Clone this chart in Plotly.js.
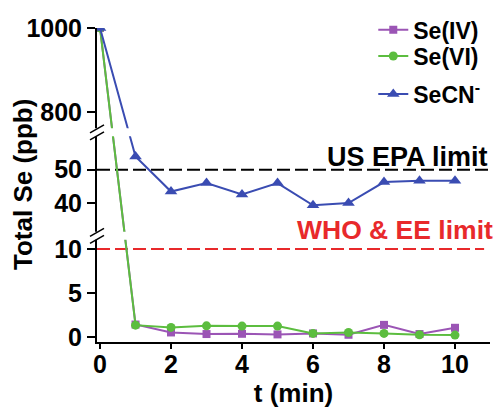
<!DOCTYPE html>
<html>
<head>
<meta charset="utf-8">
<script src="https://cdn.plot.ly/plotly-3.0.1.min.js"></script>
<style>html,body{margin:0;padding:0;background:#fff;}#chart{width:498px;height:408px;}</style>
</head>
<body>
<div id="chart"></div>
<script>
// ---- data ----
const timeMin = [0, 1, 2, 3, 4, 5, 6, 7, 8, 9, 10];
const seIV   = [1000, 1.42, 0.52, 0.34, 0.37, 0.30, 0.41, 0.26, 1.38, 0.34, 1.05];
const seVI   = [1000, 1.35, 1.09, 1.27, 1.24, 1.24, 0.41, 0.52, 0.41, 0.26, 0.22];
const seCN   = [1000, 53.9, 43.5, 46.0, 42.6, 46.0, 39.4, 40.1, 46.3, 46.7, 46.7];
const seriesNames = ['Se(IV)', 'Se(VI)', 'SeCN<sup>-</sup>'];
const yTickValues = [0, 5, 10, 40, 50, 800, 1000];
const xTickValues = [0, 2, 4, 6, 8, 10];
const limitValues = [50, 10];
const limitLabels = ['US EPA limit', 'WHO &amp; EE limit'];
const breakValues = [11.5, 61]; // axis breaks: between 0-10 and 40-50, between 40-50 and 800-1000

// ---- broken-axis scale: three linear pieces ----
function T(v) {
  if (v < 20) return 5 + 8.9 * v;
  if (v < 500) return 174 + 3.4 * (v - 50);
  return 232 + 0.425 * (v - 800);
}
const tr = arr => arr.map(T);

const FONT = 'Liberation Sans, Arial, Helvetica, sans-serif';
const cPurple = '#9B55B5', cGreen = '#5CBD3F', cBlue = '#3A4CB2', cRed = '#E8292B';

const traces = [
  {x: timeMin, y: tr(seIV), name: seriesNames[0], type: 'scatter', mode: 'lines+markers', legend: 'legend',
   line: {color: cPurple, width: 2}, marker: {symbol: 'square', size: 8, color: cPurple}},
  {x: timeMin, y: tr(seVI), name: seriesNames[1], type: 'scatter', mode: 'lines+markers', legend: 'legend2',
   line: {color: cGreen, width: 2}, marker: {symbol: 'circle', size: 9, color: cGreen}},
  {x: timeMin, y: tr(seCN), name: seriesNames[2], type: 'scatter', mode: 'lines+markers', legend: 'legend3',
   line: {color: cBlue, width: 2}, marker: {symbol: 'triangle-up', size: 11, color: cBlue}}
];

const shapes = [];
// limit lines
limitValues.forEach((v, i) => {
  shapes.push({type: 'line', xref: 'paper', x0: 0, x1: i === 0 ? 1 : 0.985, yref: 'y', y0: T(v), y1: T(v),
    line: {color: i === 0 ? '#000' : cRed, width: 2, dash: '13px,5px'}, layer: 'below'});
});
// axis breaks: white gap + double slash
const gapBreak = [
  {u: (T(breakValues[0]) + T(30.3)) / 2},
  {u: (T(breakValues[1]) + T(753)) / 2}
];
gapBreak.forEach(b => {
  shapes.push({type: 'rect', xref: 'paper', x0: -0.03, x1: 0.14, yref: 'y', ysizemode: 'pixel', yanchor: b.u,
    y0: -4, y1: 4, fillcolor: '#fff', line: {width: 0}, layer: 'above'});
  [-3.5, 3.5].forEach(off => {
    shapes.push({type: 'line', xref: 'paper', xsizemode: 'pixel', xanchor: 0, x0: -7, x1: 7,
      yref: 'y', ysizemode: 'pixel', yanchor: b.u, y0: off - 4, y1: off + 4,
      line: {color: '#000', width: 1.5}, layer: 'above'});
  });
});

const annotations = [
  {xref: 'paper', x: 1.0, xanchor: 'right', yref: 'y', y: T(limitValues[0]), yanchor: 'bottom', yshift: -4,
   text: limitLabels[0], showarrow: false, font: {family: FONT, size: 27, color: '#000', weight: 700}},
  {xref: 'paper', x: 1.013, xanchor: 'right', yref: 'y', y: T(limitValues[1]), yanchor: 'bottom', yshift: 2,
   text: limitLabels[1], showarrow: false, font: {family: FONT, size: 26.5, color: cRed, weight: 700}},
  // y-axis title placed by hand so it can sit close to the tick labels, as in the reference
  {xref: 'paper', x: (23 - 97) / 393, xanchor: 'center', yref: 'paper', y: 0.5, yanchor: 'middle',
   text: 'Total Se (ppb)', textangle: -90, showarrow: false,
   font: {family: FONT, size: 26, color: '#000', weight: 700}}
];

const legendFont = {family: FONT, size: 23, color: '#000', weight: 700};
const legendX = 0.703;
const rowPx = [26.7, 53.3, 91.7];
const legendAt = py => ({x: legendX, xanchor: 'left', y: (342 - py) / 317, yanchor: 'middle',
  bgcolor: 'rgba(0,0,0,0)', font: legendFont, itemwidth: 30});

const layout = {
  width: 498, height: 408,
  margin: {l: 97, r: 8, t: 25, b: 66, pad: 0},
  paper_bgcolor: '#fff', plot_bgcolor: '#fff',
  font: {family: FONT, color: '#000', weight: 700},
  showlegend: true,
  legend: legendAt(rowPx[0]),
  legend2: legendAt(rowPx[1]),
  legend3: legendAt(rowPx[2]),
  xaxis: {
    range: [-0.085, 10.986], showgrid: false, zeroline: false,
    showline: true, linecolor: '#000', linewidth: 2,
    ticks: 'outside', ticklen: 5, tickwidth: 2, tickcolor: '#000', ticklabelstandoff: -6,
    tickvals: xTickValues, ticktext: xTickValues.map(String),
    tickfont: {family: FONT, size: 25, color: '#000', weight: 700},
    title: {text: 't (min)', font: {family: FONT, size: 26, color: '#000', weight: 700}, standoff: 14}
  },
  yaxis: {
    range: [0, 317], showgrid: false, zeroline: false,
    showline: true, linecolor: '#000', linewidth: 2,
    ticks: 'outside', ticklen: 8, tickwidth: 2, tickcolor: '#000',
    tickvals: tr(yTickValues), ticktext: yTickValues.map(String),
    tickfont: {family: FONT, size: 25, color: '#000', weight: 700}
  },
  shapes: shapes,
  annotations: annotations
};

Plotly.newPlot('chart', traces, layout, {staticPlot: true, displayModeBar: false});
</script>
</body>
</html>
